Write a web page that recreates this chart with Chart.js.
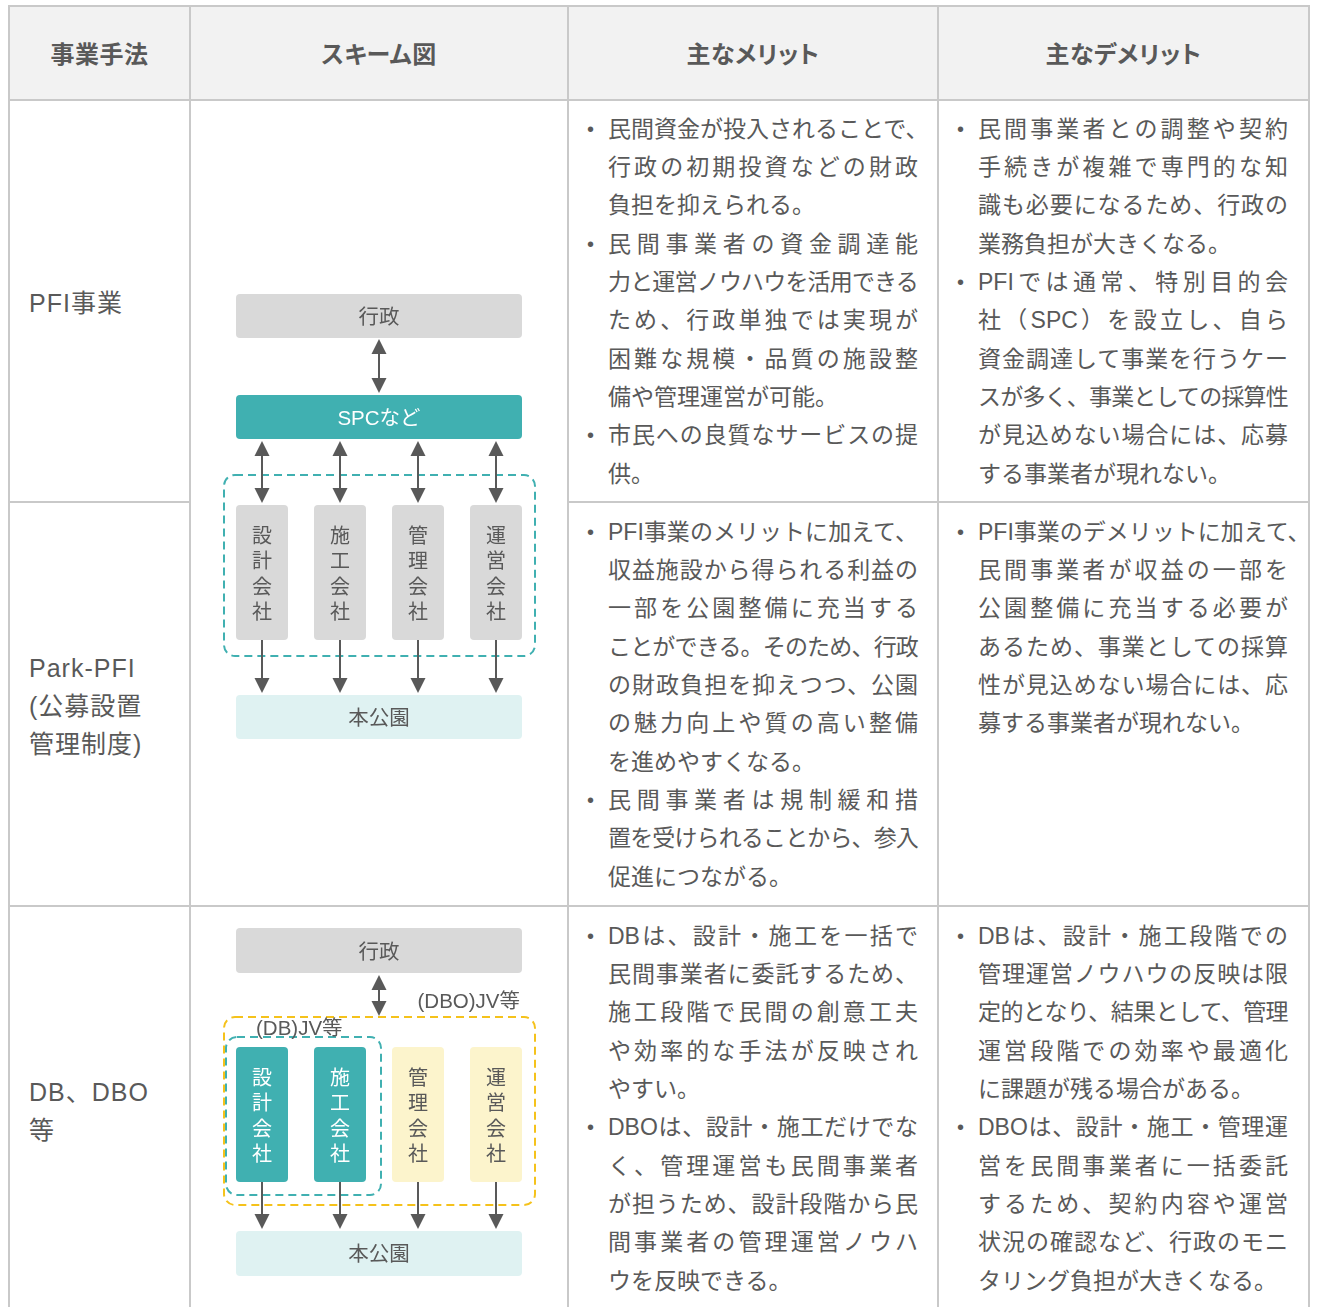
<!DOCTYPE html>
<html lang="ja"><head><meta charset="utf-8">
<script src="https://cdn.jsdelivr.net/npm/chart.js@4.4.1/dist/chart.umd.min.js"></script>
<style>
html,body{margin:0;padding:0;background:#fff;width:1317px;height:1307px;overflow:hidden;}
#page{position:relative;width:1317px;height:1307px;}
.ln{position:absolute;background:#c9c9c9;}
.bg{position:absolute;background:#f2f2f2;}
.t{position:absolute;color:#595959;font-family:"Liberation Sans","Noto Sans CJK JP",sans-serif;}
#cv{position:absolute;left:0;top:0;}
</style></head><body><div id="page"><canvas id="cv" width="1317" height="1307"></canvas></div>
<script>
// ---------- data ----------
const headers = ['事業手法', 'スキーム図', '主なメリット', '主なデメリット'];
const methods = [['PFI事業'], ['Park-PFI', '(公募設置', '管理制度)'], ['DB、DBO', '等']];
const merits = [
  [['民間資金が投入されることで、', '行政の初期投資などの財政', '負担を抑えられる。'],
   ['民間事業者の資金調達能', '力と運営ノウハウを活用できる', 'ため、行政単独では実現が', '困難な規模・品質の施設整', '備や管理運営が可能。'],
   ['市民への良質なサービスの提', '供。']],
  [['PFI事業のメリットに加えて、', '収益施設から得られる利益の', '一部を公園整備に充当する', 'ことができる。そのため、行政', 'の財政負担を抑えつつ、公園', 'の魅力向上や質の高い整備', 'を進めやすくなる。'],
   ['民間事業者は規制緩和措', '置を受けられることから、参入', '促進につながる。']],
  [['DBは、設計・施工を一括で', '民間事業者に委託するため、', '施工段階で民間の創意工夫', 'や効率的な手法が反映され', 'やすい。'],
   ['DBOは、設計・施工だけでな', 'く、管理運営も民間事業者', 'が担うため、設計段階から民', '間事業者の管理運営ノウハ', 'ウを反映できる。']]
];
const demerits = [
  [['民間事業者との調整や契約', '手続きが複雑で専門的な知', '識も必要になるため、行政の', '業務負担が大きくなる。'],
   ['PFIでは通常、特別目的会', '社（SPC）を設立し、自ら', '資金調達して事業を行うケー', 'スが多く、事業としての採算性', 'が見込めない場合には、応募', 'する事業者が現れない。']],
  [['PFI事業のデメリットに加えて、', '民間事業者が収益の一部を', '公園整備に充当する必要が', 'あるため、事業としての採算', '性が見込めない場合には、応', '募する事業者が現れない。']],
  [['DBは、設計・施工段階での', '管理運営ノウハウの反映は限', '定的となり、結果として、管理', '運営段階での効率や最適化', 'に課題が残る場合がある。'],
   ['DBOは、設計・施工・管理運', '営を民間事業者に一括委託', 'するため、契約内容や運営', '状況の確認など、行政のモニ', 'タリング負担が大きくなる。']]
];
const schemeNodes = ['行政', 'SPCなど', '本公園'];
const companies = ['設計会社', '施工会社', '管理会社', '運営会社'];
const groupLabels = ['(DBO)JV等', '(DB)JV等'];

// ---------- table layout ----------
const page = document.getElementById('page');
const colX = [9, 190, 568, 938, 1309];
const rowY = [6, 100, 502, 906, 1312];
const LH = 38.33;
const textStart = [129, 532, 936];

function el(cls, css, txt) {
  const d = document.createElement('div');
  d.className = cls;
  Object.assign(d.style, css);
  if (txt !== undefined) d.textContent = txt;
  page.insertBefore(d, document.getElementById('cv'));
  return d;
}
el('bg', {left: colX[0] + 'px', top: rowY[0] + 'px', width: (colX[4] - colX[0]) + 'px', height: (rowY[1] - rowY[0]) + 'px'});
function hline(x0, x1, y) { el('ln', {left: (x0 - 1) + 'px', top: (y - 1) + 'px', width: (x1 - x0 + 2) + 'px', height: '2px'}); }
function vline(x, y0, y1) { el('ln', {left: (x - 1) + 'px', top: (y0 - 1) + 'px', width: '2px', height: (y1 - y0 + 2) + 'px'}); }
hline(colX[0], colX[4], rowY[0]);
hline(colX[0], colX[4], rowY[1]);
hline(colX[0], colX[1], rowY[2]);
hline(colX[2], colX[4], rowY[2]);
hline(colX[0], colX[4], rowY[3]);
hline(colX[0], colX[4], rowY[4]);
colX.forEach(x => vline(x, rowY[0], rowY[4]));

headers.forEach((h, i) => {
  el('t', {left: colX[i] + 'px', top: (55 - 20) + 'px', width: (colX[i + 1] - colX[i]) + 'px', height: '40px',
    lineHeight: '40px', textAlign: 'center', fontSize: '24px', fontWeight: 'bold', whiteSpace: 'nowrap',
    fontFeatureSettings: '"palt"', letterSpacing: '0.5px'}, h);
});
methods.forEach((lines, r) => {
  const mid = (rowY[r + 1] + rowY[r + 2]) / 2 + 2;
  lines.forEach((s, i) => {
    const cy = mid + (i - (lines.length - 1) / 2) * 38;
    el('t', {left: '29px', top: (cy - 19) + 'px', height: '38px', lineHeight: '38px', fontSize: '25px',
      whiteSpace: 'nowrap', letterSpacing: '1px'}, s);
  });
});
const bodyLines = [];
function bodyColumn(data, r, xText) {
  let k = 0;
  data.forEach(par => {
    par.forEach((s, i) => {
      const cy = textStart[r] + k * LH;
      if (i === 0) {
        el('t', {left: (xText - 21) + 'px', top: (cy - LH / 2) + 'px', height: LH + 'px', lineHeight: LH + 'px',
          fontSize: '20px', whiteSpace: 'nowrap'}, '•');
      }
      const d = el('t', {left: xText + 'px', top: (cy - LH / 2) + 'px', height: LH + 'px', lineHeight: LH + 'px',
        fontSize: '23px', whiteSpace: 'nowrap'}, s);
      bodyLines.push({d, s, last: i === par.length - 1});
      k++;
    });
  });
}
merits.forEach((m, r) => bodyColumn(m, r, 608));
demerits.forEach((m, r) => bodyColumn(m, r, 978));

function justify() {
  const W = 310;
  bodyLines.forEach(({d, s, last}) => {
    if (last) return;
    const w = d.getBoundingClientRect().width;
    if (w > W) {
      if (s.endsWith('、')) return;
      const n = [...s].length;
      d.style.letterSpacing = ((W - w) / n) + 'px';
    } else {
      d.style.width = W + 'px';
      d.style.whiteSpace = 'normal';
      d.style.wordBreak = 'keep-all';
      d.style.textAlign = 'justify';
      d.style.textAlignLast = 'justify';
    }
  });
}

// ---------- scheme diagrams (Chart.js) ----------
const TEAL = '#40b0b1', GRAY = '#d9d9d9', LTEAL = '#dff2f2', YEL = '#fcf4cc', GOLD = '#f5c21b', INK = '#595959';
const boxL = 236, boxR = 522, compX = [262, 340, 418, 496], compW = 52;
const FONT = '"Liberation Sans","Noto Sans CJK JP",sans-serif';
const TXT_DY = 2.5;

const schemePlugin = {
  id: 'scheme',
  afterDraw(chart) {
    const ctx = chart.ctx;
    const X = v => chart.scales.x.getPixelForValue(v);
    const Y = v => chart.scales.y.getPixelForValue(v);
    function rr(x0, y0, x1, y1, r, fill, stroke, dash) {
      ctx.save();
      ctx.beginPath();
      ctx.roundRect(X(x0), Y(y0), X(x1) - X(x0), Y(y1) - Y(y0), r);
      if (fill) { ctx.fillStyle = fill; ctx.fill(); }
      if (stroke) { ctx.strokeStyle = stroke; ctx.lineWidth = 2; ctx.setLineDash(dash || []); ctx.stroke(); }
      ctx.restore();
    }
    function head(x, tipY, dir) {
      ctx.beginPath();
      ctx.moveTo(X(x), Y(tipY));
      ctx.lineTo(X(x - 7.5), Y(tipY - dir * 15));
      ctx.lineTo(X(x + 7.5), Y(tipY - dir * 15));
      ctx.closePath();
      ctx.fill();
    }
    function arrow(x, y0, y1, both) {
      ctx.save();
      ctx.strokeStyle = INK; ctx.fillStyle = INK; ctx.lineWidth = 2;
      ctx.beginPath(); ctx.moveTo(X(x), Y(both ? y0 + 8 : y0)); ctx.lineTo(X(x), Y(y1 - 8)); ctx.stroke();
      head(x, y1, 1);
      if (both) head(x, y0, -1);
      ctx.restore();
    }
    function text(s, x, y, color, size, align) {
      ctx.save();
      ctx.fillStyle = color; ctx.font = size + 'px ' + FONT;
      ctx.textAlign = align || 'center'; ctx.textBaseline = 'middle';
      ctx.fillText(s, X(x), Y(y + TXT_DY));
      ctx.restore();
    }
    function vtext(s, x, y0, color) {
      [...s].forEach((ch, i) => text(ch, x, y0 + i * 25.3, color, 20));
    }
    const cx = (boxL + boxR) / 2;

    // ---- diagram 1 : PFI / Park-PFI ----
    rr(boxL, 294, boxR, 338, 4, GRAY);
    text(schemeNodes[0], cx, 316, INK, 20.5);
    arrow(cx, 339, 393, true);
    rr(boxL, 395, boxR, 439, 4, TEAL);
    text(schemeNodes[1], cx, 417, '#ffffff', 20.5);
    rr(224, 475, 535, 656, 11, null, TEAL, [8, 5]);
    companies.forEach((c, i) => {
      arrow(compX[i], 441, 503, true);
      rr(compX[i] - compW / 2, 505, compX[i] + compW / 2, 640, 4, GRAY);
      vtext(c, compX[i], 535, INK);
      arrow(compX[i], 640, 693, false);
    });
    rr(boxL, 695, boxR, 739, 4, LTEAL);
    text(schemeNodes[2], cx, 717, INK, 20.5);

    // ---- diagram 2 : DB / DBO ----
    rr(boxL, 928, boxR, 973, 4, GRAY);
    text(schemeNodes[0], cx, 951, INK, 20.5);
    arrow(cx, 975, 1016, true);
    text(groupLabels[0], 520, 1000, INK, 20.5, 'right');
    rr(224, 1017, 535, 1205, 11, null, GOLD, [8, 5]);
    rr(226, 1037, 381, 1195, 11, null, TEAL, [8, 5]);
    text(groupLabels[1], 256, 1027, INK, 20.5, 'left');
    companies.forEach((c, i) => {
      const fill = i < 2 ? TEAL : YEL;
      const col = i < 2 ? '#ffffff' : INK;
      rr(compX[i] - compW / 2, 1047, compX[i] + compW / 2, 1182, 4, fill);
      vtext(c, compX[i], 1077, col);
      arrow(compX[i], 1182, 1229, false);
    });
    rr(boxL, 1231, boxR, 1276, 4, LTEAL);
    text(schemeNodes[2], cx, 1253, INK, 20.5);
  }
};

function draw() {
  justify();
  new Chart(document.getElementById('cv'), {
    type: 'scatter',
    data: {datasets: [{data: []}]},
    options: {
      responsive: false, animation: false, devicePixelRatio: 1,
      layout: {padding: 0},
      plugins: {legend: {display: false}, tooltip: {enabled: false}},
      events: [],
      scales: {
        x: {type: 'linear', min: 0, max: 1317, display: false},
        y: {type: 'linear', min: 0, max: 1307, reverse: true, display: false}
      }
    },
    plugins: [schemePlugin]
  });
}
if (document.fonts && document.fonts.ready) document.fonts.ready.then(draw); else draw();
</script></body></html>
